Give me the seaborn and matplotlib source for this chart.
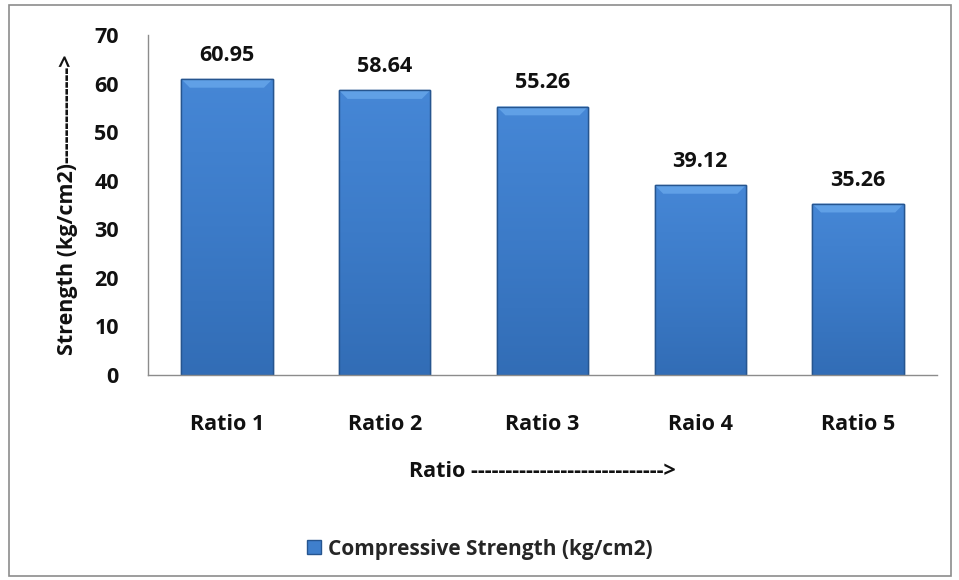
import matplotlib
matplotlib.use("Agg")
import matplotlib.pyplot as plt
import seaborn as sns
import pandas as pd
import numpy as np
from matplotlib.patches import Rectangle, Polygon
from matplotlib.colors import LinearSegmentedColormap

categories = ["Ratio 1", "Ratio 2", "Ratio 3", "Raio 4", "Ratio 5"]
strength = [60.95, 58.64, 55.26, 39.12, 35.26]
value_labels = ["60.95", "58.64", "55.26", "39.12", "35.26"]
yticks = [0, 10, 20, 30, 40, 50, 60, 70]
series_name = "Compressive Strength (kg/cm2)"

df = pd.DataFrame({"Ratio": categories, "Strength": strength})

sns.set_theme(style="white")
plt.rcParams["font.family"] = ["Open Sans", "DejaVu Sans"]
plt.rcParams["font.weight"] = "bold"

FS = 15.5
TXT = "#111111"
bar_color = "#3d7cc9"
edge_color = "#26558f"

fig = plt.figure(figsize=(9.59, 5.80), dpi=100)
ax = fig.add_axes([148 / 959, 1 - 375 / 580, (937 - 148) / 959, (375 - 35) / 580])

sns.barplot(data=df, x="Ratio", y="Strength", color=bar_color, width=0.58,
            saturation=1, edgecolor=edge_color, linewidth=1.0, ax=ax)

xlim = ax.get_xlim()
ax.set_ylim(0, 70)

# shaded fill and bevelled top on each bar
shade = LinearSegmentedColormap.from_list("shade", ["#326db6", "#3c7bc8", "#4687d6"])
grad = np.linspace(0, 1, 256).reshape(-1, 1)
bx, by = 0.055, 1.8
for p in ax.patches[:len(strength)]:
    x0, w, h = p.get_x(), p.get_width(), p.get_height()
    im = ax.imshow(grad, cmap=shade, origin="lower", aspect="auto",
                   extent=(x0, x0 + w, 0, h), zorder=p.get_zorder() + 0.1)
    im.set_clip_path(p)
    ax.add_patch(Polygon([(x0, h), (x0 + w, h), (x0 + w - bx, h - by), (x0 + bx, h - by)],
                         closed=True, facecolor="#60a0e6", edgecolor="none",
                         zorder=p.get_zorder() + 0.2))
    ax.add_patch(Rectangle((x0, 0), w, h, fill=False, edgecolor=edge_color,
                           linewidth=1.0, zorder=p.get_zorder() + 0.3))

for p, lab in zip(ax.patches[:len(strength)], value_labels):
    ax.annotate(lab, (p.get_x() + p.get_width() / 2, p.get_height()),
                xytext=(0, 9.5), textcoords="offset points",
                ha="center", va="bottom", fontsize=FS, fontweight="bold", color=TXT)

ax.set_xlim(xlim)
ax.set_ylim(0, 70)
ax.set_yticks(yticks)
ax.set_yticklabels([str(t) for t in yticks], fontsize=FS, fontweight="bold", color=TXT)
ax.tick_params(axis="x", labelsize=FS, pad=28, colors=TXT, length=0)
ax.tick_params(axis="y", pad=21, length=0)
for t in ax.get_xticklabels():
    t.set_fontweight("bold")

ax.set_xlabel("Ratio ---------------------------->", fontsize=FS, fontweight="bold",
              labelpad=19, color=TXT)
ax.set_ylabel("Strength (kg/cm2)-------------->", fontsize=FS, fontweight="bold",
              labelpad=12, color=TXT)

for s in ["top", "right"]:
    ax.spines[s].set_visible(False)
for s in ["left", "bottom"]:
    ax.spines[s].set_color("#8c8c8c")
    ax.spines[s].set_linewidth(1.0)

handle = Rectangle((0, 0), 1, 1, facecolor="#3f7fcc", edgecolor=edge_color)
fig.legend([handle], [series_name], loc="center", bbox_to_anchor=(480 / 959, 1 - 549 / 580),
           frameon=False, prop={"weight": "bold", "size": 15},
           handlelength=0.65, handleheight=0.65, handletextpad=0.35)

# outer chart frame
fig.patches.append(Rectangle((9 / 959, 4 / 580), 942 / 959, 571 / 580, transform=fig.transFigure,
                             fill=False, edgecolor="#8c8c8c", linewidth=1.2))

fig.savefig("out.png", dpi=100)
